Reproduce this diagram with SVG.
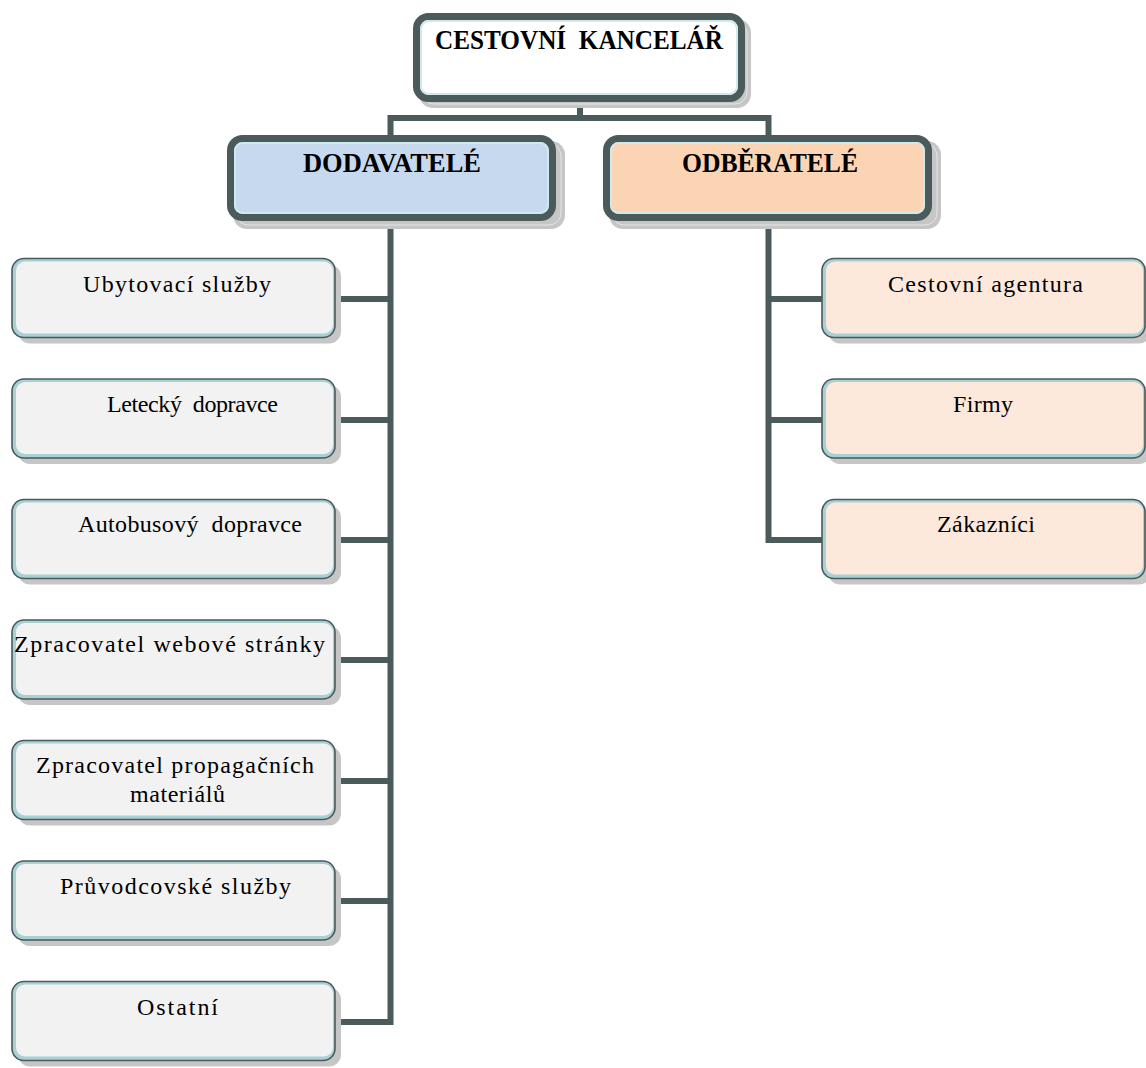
<svg xmlns="http://www.w3.org/2000/svg" width="1146" height="1068" viewBox="0 0 1146 1068">
<style>
.conn{stroke:#4b5a5b;stroke-width:6;fill:none;stroke-linecap:square}
.shadow{fill:#c6c6c6}
.shadowline{fill:none;stroke:#e6e6e6;stroke-width:1}
.bigout{stroke:#4b5a5b;stroke-width:7}
.bigring{fill:none;stroke:#cfe9ed;stroke-width:2}
.smout{fill:#a9d0d4;stroke:#4b5a5b;stroke-width:1.6}
.hd{font-family:"Liberation Serif","Times New Roman","DejaVu Serif",serif;font-weight:bold;font-size:28px;fill:#000}
.lb{font-family:"Liberation Serif","Times New Roman","DejaVu Serif",serif;font-size:24px;fill:#000}
</style>
<rect width="1146" height="1068" fill="#fff"/>
<g id="connectors">
<path class="conn" d="M580 102V118M390.5 118H768.5M390.5 118V136M768.5 118V136"/>
<path class="conn" d="M390.5 221V1022M335 299H390.5M335 420H390.5M335 540H390.5M335 660H390.5M335 781H390.5M335 901H390.5M335 1022H390.5"/>
<path class="conn" d="M768.5 221V540M768.5 299H822M768.5 420H822M768.5 540H822"/>
</g>
<g id="n-cestovni-kancelar">
<rect class="shadow" x="419" y="19" width="332" height="89" rx="14"/>
<rect class="shadowline" x="422" y="22" width="325" height="82" rx="12"/>
<rect class="bigout" x="416.5" y="16.5" width="325" height="82" rx="12" fill="#fff"/>
<rect class="bigring" x="421" y="21" width="316" height="73" rx="8"/>
<text class="hd" x="435" y="49" textLength="288" lengthAdjust="spacingAndGlyphs" xml:space="preserve">CESTOVNÍ  KANCELÁŘ</text>
</g>
<g id="n-dodavatele">
<rect class="shadow" x="233" y="141" width="332" height="88" rx="14"/>
<rect class="shadowline" x="236" y="144" width="325" height="81" rx="12"/>
<rect class="bigout" x="230.5" y="138.5" width="322" height="79" rx="12" fill="#c6d9ef"/>
<rect class="bigring" x="235" y="143" width="313" height="70" rx="8"/>
<text class="hd" x="303" y="172" textLength="178" lengthAdjust="spacingAndGlyphs">DODAVATELÉ</text>
</g>
<g id="n-odberatele">
<rect class="shadow" x="609" y="141" width="332" height="88" rx="14"/>
<rect class="shadowline" x="612" y="144" width="325" height="81" rx="12"/>
<rect class="bigout" x="606.5" y="138.5" width="322" height="79" rx="12" fill="#fbd4b4"/>
<rect class="bigring" x="611" y="143" width="313" height="70" rx="8"/>
<text class="hd" x="682" y="172" textLength="176" lengthAdjust="spacingAndGlyphs">ODBĚRATELÉ</text>
</g>
<defs>
<g id="lbox">
<rect class="shadow" x="6" y="6" width="323" height="79" rx="12"/>
<rect class="smout" x="0" y="0" width="323" height="79" rx="12"/>
<rect x="4" y="3" width="317" height="72" rx="9" fill="#f2f2f2"/>
</g>
<g id="rbox">
<rect class="shadow" x="6" y="6" width="323" height="79" rx="12"/>
<rect class="smout" x="0" y="0" width="323" height="79" rx="12"/>
<rect x="4" y="3" width="317" height="72" rx="9" fill="#fde9db"/>
</g>
</defs>
<g id="n-ubytovaci">
<use href="#lbox" x="12" y="258.5"/>
<text class="lb" x="83" y="292" textLength="188" lengthAdjust="spacing">Ubytovací služby</text>
</g>
<g id="n-letecky">
<use href="#lbox" x="12" y="379"/>
<text class="lb" x="107" y="412" textLength="171" lengthAdjust="spacing" xml:space="preserve">Letecký  dopravce</text>
</g>
<g id="n-autobusovy">
<use href="#lbox" x="12" y="499.5"/>
<text class="lb" x="78" y="532" textLength="224" lengthAdjust="spacing" xml:space="preserve">Autobusový  dopravce</text>
</g>
<g id="n-web">
<use href="#lbox" x="12" y="620"/>
<text class="lb" x="14" y="652" textLength="311" lengthAdjust="spacing">Zpracovatel webové stránky</text>
</g>
<g id="n-propagace">
<use href="#lbox" x="12" y="740.5"/>
<text class="lb" x="36" y="773" textLength="278" lengthAdjust="spacing">Zpracovatel propagačních</text>
<text class="lb" x="130" y="802" textLength="95" lengthAdjust="spacing">materiálů</text>
</g>
<g id="n-pruvodcovske">
<use href="#lbox" x="12" y="861"/>
<text class="lb" x="60" y="894" textLength="231" lengthAdjust="spacing">Průvodcovské služby</text>
</g>
<g id="n-ostatni">
<use href="#lbox" x="12" y="981.5"/>
<text class="lb" x="137" y="1015" textLength="81" lengthAdjust="spacing">Ostatní</text>
</g>
<g id="n-agentura">
<use href="#rbox" x="822" y="258.5"/>
<text class="lb" x="888" y="292" textLength="195" lengthAdjust="spacing">Cestovní agentura</text>
</g>
<g id="n-firmy">
<use href="#rbox" x="822" y="379"/>
<text class="lb" x="953" y="412" textLength="60" lengthAdjust="spacing">Firmy</text>
</g>
<g id="n-zakaznici">
<use href="#rbox" x="822" y="499.5"/>
<text class="lb" x="937" y="532" textLength="98" lengthAdjust="spacing">Zákazníci</text>
</g>
</svg>
